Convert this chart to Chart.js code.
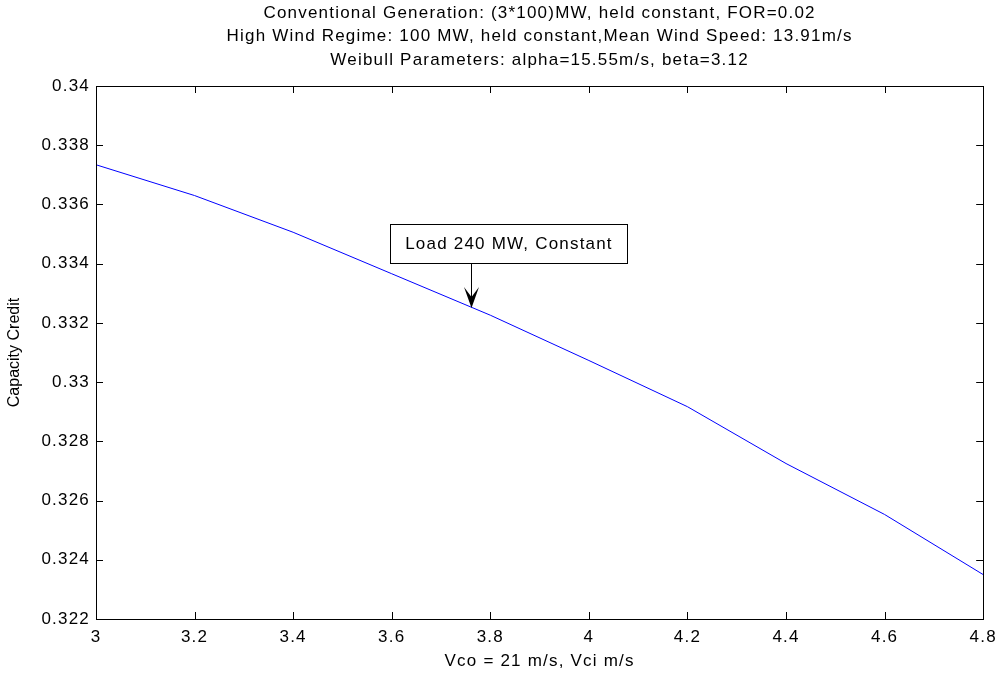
<!DOCTYPE html>
<html>
<head>
<meta charset="utf-8">
<script src="https://cdn.jsdelivr.net/npm/chart.js@4.4.1/dist/chart.umd.min.js"></script>
<style>
  html, body { margin: 0; padding: 0; background: #fff; }
  #wrap { width: 1003px; height: 675px; position: relative; }
</style>
</head>
<body>
<div id="wrap"><canvas id="cc"></canvas></div>
<script>
// capacity credit vs cut-in speed
const VCI = [3, 3.2, 3.4, 3.6, 3.8, 4.0, 4.2, 4.4, 4.6, 4.8];
const CREDIT = [0.33734, 0.33630, 0.33506, 0.33366, 0.33226, 0.33073, 0.32917, 0.32725, 0.32553, 0.32350];

const X_TICKS = [3, 3.2, 3.4, 3.6, 3.8, 4, 4.2, 4.4, 4.6, 4.8];
const X_TICK_LABELS = ['3', '3.2', '3.4', '3.6', '3.8', '4', '4.2', '4.4', '4.6', '4.8'];
const Y_TICKS = [0.322, 0.324, 0.326, 0.328, 0.33, 0.332, 0.334, 0.336, 0.338, 0.34];
const Y_TICK_LABELS = ['0.322', '0.324', '0.326', '0.328', '0.33', '0.332', '0.334', '0.336', '0.338', '0.34'];

const TITLE_LINES = [
  'Conventional Generation: (3*100)MW, held constant, FOR=0.02',
  'High Wind Regime: 100 MW, held constant,Mean Wind Speed: 13.91m/s',
  'Weibull Parameters: alpha=15.55m/s, beta=3.12'
];
const X_TITLE = 'Vco = 21 m/s, Vci m/s';
const Y_TITLE = 'Capacity Credit';
const NOTE_TEXT = 'Load 240 MW, Constant';
const NOTE_AT = 3.76; // where the arrow hits the curve

const FONT = "'Liberation Sans', Arial, Helvetica, sans-serif";
const SPACING = '1.2px'; // matlab text runs a bit wider

// wider text everywhere (canvas state is reset on resize, so set it per draw)
const spacingPlugin = {
  id: 'spacing',
  beforeDraw(chart) { chart.ctx.letterSpacing = SPACING; }
};

// title lines + y label, drawn centred on the axes like matlab does
const titlePlugin = {
  id: 'titleLines',
  afterDraw(chart) {
    const { ctx, chartArea } = chart;
    const cx = (chartArea.left + chartArea.right) / 2;
    const cy = (chartArea.top + chartArea.bottom) / 2;
    ctx.save();
    ctx.fillStyle = '#000';
    ctx.font = '17px ' + FONT;
    ctx.textAlign = 'center';
    ctx.textBaseline = 'middle';
    TITLE_LINES.forEach((t, i) => ctx.fillText(t, cx, 13 + i * 23.5));

    ctx.letterSpacing = '0px';
    ctx.font = '16px ' + FONT;
    ctx.translate(15, cy);
    ctx.rotate(-Math.PI / 2);
    ctx.fillText(Y_TITLE, 0, 0);
    ctx.restore();
  }
};

// box round the axes + inward tick marks
const framePlugin = {
  id: 'frame',
  afterDraw(chart) {
    const { ctx, chartArea: a } = chart;
    const xs = chart.scales.x, ys = chart.scales.y;
    const len = 7;
    ctx.save();
    ctx.strokeStyle = '#000';
    ctx.lineWidth = 1;
    ctx.beginPath();
    X_TICKS.forEach(v => {
      const px = Math.round(xs.getPixelForValue(v)) + 0.5;
      ctx.moveTo(px, a.bottom); ctx.lineTo(px, a.bottom - len);
      ctx.moveTo(px, a.top); ctx.lineTo(px, a.top + len);
    });
    Y_TICKS.forEach(v => {
      const py = Math.round(ys.getPixelForValue(v)) + 0.5;
      ctx.moveTo(a.left, py); ctx.lineTo(a.left + len, py);
      ctx.moveTo(a.right, py); ctx.lineTo(a.right - len, py);
    });
    ctx.stroke();
    ctx.strokeRect(Math.round(a.left) + 0.5, Math.round(a.top) + 0.5,
      Math.round(a.right - a.left), Math.round(a.bottom - a.top));
    ctx.restore();
  }
};

// text arrow pointing at the curve
const notePlugin = {
  id: 'note',
  afterDraw(chart) {
    const { ctx } = chart;
    const xs = chart.scales.x, ys = chart.scales.y;
    // value on the curve at NOTE_AT (linear between neighbours)
    let k = 0;
    while (k < VCI.length - 2 && VCI[k + 1] < NOTE_AT) k++;
    const f = (NOTE_AT - VCI[k]) / (VCI[k + 1] - VCI[k]);
    const yv = CREDIT[k] + f * (CREDIT[k + 1] - CREDIT[k]);
    const tx = Math.round(xs.getPixelForValue(NOTE_AT)) + 0.5;
    const ty = ys.getPixelForValue(yv) + 1;

    const bw = 237, bh = 39;
    const bx = Math.round(tx + 37 - bw / 2) + 0.5;
    const by = Math.round(ty - 45 - bh) + 0.5;

    ctx.save();
    ctx.fillStyle = '#fff';
    ctx.fillRect(bx, by, bw, bh);
    ctx.strokeStyle = '#000';
    ctx.lineWidth = 1;
    ctx.strokeRect(bx, by, bw, bh);
    ctx.fillStyle = '#000';
    ctx.font = '17px ' + FONT;
    ctx.textAlign = 'center';
    ctx.textBaseline = 'middle';
    ctx.fillText(NOTE_TEXT, bx + bw / 2, by + bh / 2);

    ctx.beginPath();
    ctx.moveTo(tx, by + bh);
    ctx.lineTo(tx, ty - 10);
    ctx.stroke();
    ctx.beginPath();
    ctx.moveTo(tx, ty);
    ctx.lineTo(tx - 7.5, ty - 21);
    ctx.lineTo(tx, ty - 11);
    ctx.lineTo(tx + 7.5, ty - 21);
    ctx.closePath();
    ctx.fill();
    ctx.restore();
  }
};

new Chart(document.getElementById('cc'), {
  type: 'line',
  data: {
    datasets: [{
      data: VCI.map((v, i) => ({ x: v, y: CREDIT[i] })),
      borderColor: '#0000ff',
      borderWidth: 1,
      pointRadius: 0,
      tension: 0,
      fill: false
    }]
  },
  options: {
    responsive: true,
    maintainAspectRatio: false,
    animation: false,
    layout: { padding: { top: 86, right: 18, left: 0, bottom: 0 } },
    plugins: {
      legend: { display: false },
      title: { display: false },
      tooltip: { enabled: false }
    },
    scales: {
      x: {
        type: 'linear',
        min: 3, max: 4.8,
        afterBuildTicks: s => { s.ticks = X_TICKS.map(v => ({ value: v })); },
        afterFit: s => { s.height = 56; },
        grid: { display: false, drawTicks: false },
        border: { display: false },
        ticks: {
          padding: 8,
          color: '#000',
          font: { family: FONT, size: 17 },
          maxRotation: 0,
          callback: (v, i) => X_TICK_LABELS[i]
        },
        title: {
          display: true, text: X_TITLE, color: '#000',
          font: { family: FONT, size: 17 },
          padding: { top: 2, bottom: 3 }
        }
      },
      y: {
        type: 'linear',
        min: 0.322, max: 0.34,
        afterBuildTicks: s => { s.ticks = Y_TICKS.map(v => ({ value: v })); },
        afterFit: s => { s.width = 96; },
        grid: { display: false, drawTicks: false },
        border: { display: false },
        ticks: {
          padding: 6,
          color: '#000',
          font: { family: FONT, size: 17 },
          callback: (v, i) => Y_TICK_LABELS[i]
        },
        title: { display: false }
      }
    }
  },
  plugins: [spacingPlugin, titlePlugin, framePlugin, notePlugin]
});
</script>
</body>
</html>
